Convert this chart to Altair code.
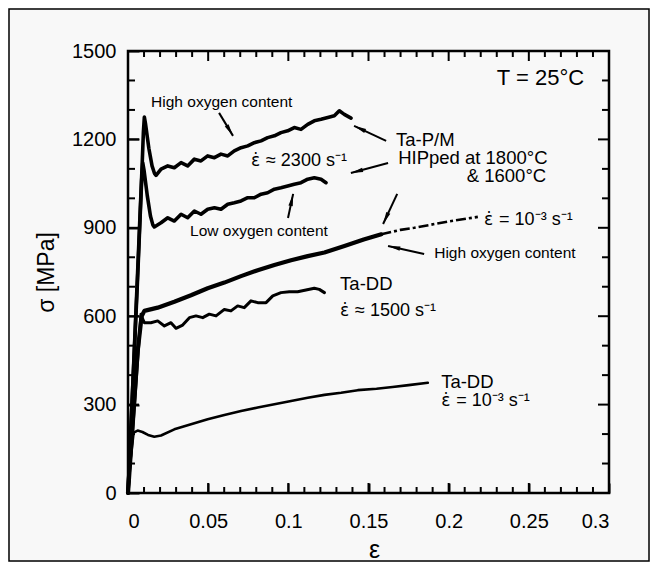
import math
import altair as alt
import pandas as pd

FONT = "Liberation Sans"

# ---------------- data ----------------
# Ta-P/M HIPped, high oxygen content, strain rate ~2300 /s
pm_high_eps = [0.0, 0.003, 0.006, 0.0088, 0.0096, 0.0102, 0.0110, 0.0130, 0.0150, 0.0165, 0.0175,
               0.0206, 0.0248, 0.0289, 0.0331, 0.0372, 0.0414, 0.0455, 0.0497, 0.0539, 0.0580,
               0.0622, 0.0663, 0.0705, 0.0747, 0.0788, 0.0830, 0.0871, 0.0913, 0.0954, 0.0996,
               0.1037, 0.1079, 0.1121, 0.1162, 0.1204, 0.1246, 0.1287, 0.1318, 0.1349, 0.1391]
pm_high_sig = [0, 370, 750, 1110, 1225, 1276, 1250, 1170, 1110, 1085, 1078,
               1099, 1110, 1104, 1121, 1110, 1133, 1127, 1144, 1138, 1150,
               1144, 1161, 1172, 1178, 1189, 1195, 1206, 1212, 1223, 1229,
               1240, 1234, 1251, 1263, 1268, 1274, 1280, 1297, 1285, 1272]

# Ta-P/M HIPped, low oxygen content, strain rate ~2300 /s
pm_low_eps = [0.0, 0.003, 0.006, 0.0085, 0.0092, 0.0100, 0.0120, 0.0140, 0.0155, 0.0164,
              0.0206, 0.0248, 0.0289, 0.0331, 0.0372, 0.0414, 0.0455, 0.0497, 0.0539, 0.0580,
              0.0622, 0.0663, 0.0705, 0.0747, 0.0788, 0.0830, 0.0871, 0.0913, 0.0954, 0.0996,
              0.1037, 0.1079, 0.1121, 0.1162, 0.1204, 0.1235]
pm_low_sig = [0, 365, 730, 1060, 1121, 1095, 1010, 940, 910, 903,
              917, 934, 923, 946, 934, 957, 946, 963, 968, 963,
              980, 985, 991, 1002, 1002, 1014, 1019, 1031, 1036, 1042,
              1048, 1053, 1065, 1070, 1065, 1053]

# Ta-P/M HIPped, high oxygen content, strain rate 1e-3 /s (solid part)
pm_qs_eps = [0.0, 0.003, 0.006, 0.0085, 0.0102, 0.0185, 0.0289, 0.0393, 0.0497, 0.0601, 0.0705,
             0.0809, 0.0913, 0.1017, 0.1121, 0.1225, 0.1350, 0.1470, 0.1580]
pm_qs_sig = [0, 240, 480, 600, 618, 629, 649, 671, 695, 714, 736,
             756, 774, 790, 804, 816, 838, 860, 878]
# same test, dashed continuation
pm_qs_ext_eps = [0.1580, 0.1700, 0.1786, 0.1994, 0.2182]
pm_qs_ext_sig = [878, 893, 900, 921, 937]

# Ta-DD, strain rate ~1500 /s
dd_dyn_eps = [0.0, 0.003, 0.006, 0.0081, 0.0092, 0.0102, 0.0143, 0.0185, 0.0227, 0.0268, 0.0299,
              0.0341, 0.0383, 0.0424, 0.0466, 0.0507, 0.0549, 0.0601, 0.0642, 0.0684, 0.0725,
              0.0767, 0.0809, 0.0861, 0.0903, 0.0954, 0.1006, 0.1058, 0.1110, 0.1162, 0.1193,
              0.1225]
dd_dyn_sig = [0, 220, 450, 607, 590, 578, 578, 584, 567, 578, 559,
              570, 595, 601, 595, 607, 601, 623, 618, 635, 629,
              652, 646, 646, 669, 680, 683, 683, 689, 695, 691,
              680]

# Ta-DD, strain rate 1e-3 /s
dd_qs_eps = [0.0, 0.0015, 0.0035, 0.0060, 0.0090, 0.0125, 0.0164, 0.0206, 0.0289, 0.0393, 0.0497,
             0.0601, 0.0705, 0.0809, 0.0913, 0.1017, 0.1121, 0.1225, 0.1329, 0.1433, 0.1550,
             0.1650, 0.1750, 0.1870]
dd_qs_sig = [0, 110, 205, 212, 207, 197, 191, 195, 216, 233, 250,
             265, 278, 290, 301, 312, 323, 333, 340, 349, 354,
             360, 366, 374]

# axis ticks
x_major = [0, 0.05, 0.1, 0.15, 0.2, 0.25, 0.3]
x_minor = [round(i * 0.01, 2) for i in range(31) if i % 5]
y_major = [0, 300, 600, 900, 1200, 1500]
y_minor = [100, 200, 400, 500, 700, 800, 1000, 1100, 1300, 1400]

# annotation arrows (tail -> tip), in data units
arrow_tail_eps = [0.0568, 0.1610, 0.1622, 0.0998, 0.1679, 0.1847]
arrow_tail_sig = [1290, 1195, 1120, 933, 1015, 811]
arrow_tip_eps = [0.0655, 0.1410, 0.1390, 0.1030, 0.1591, 0.1622]
arrow_tip_sig = [1212, 1246, 1086, 1015, 913, 838]

# plain annotations
ann_text = ["T = 25°C", "High oxygen content", "Ta-P/M", "HIPped at 1800°C", "& 1600°C",
            "Low oxygen content", "High oxygen content", "Ta-DD", "Ta-DD"]
ann_eps = [0.2845, 0.0144, 0.1672, 0.1685, 0.2608, 0.0387, 0.1910, 0.1323, 0.1953]
ann_sig = [1408, 1327, 1198, 1137, 1076, 889, 815, 709, 377]
ann_align = ["right", "left", "left", "left", "right", "left", "left", "left", "left"]
ann_size = [22, 15.5, 18.5, 18.5, 18.5, 15.5, 15.5, 18.5, 18.5]

# strain-rate annotations: "ε̇" + rest
rate_text = ["≈ 2300 s⁻¹", "= 10⁻³ s⁻¹", "≈ 1500 s⁻¹", "= 10⁻³ s⁻¹"]
rate_eps = [0.0767, 0.2221, 0.1323, 0.1953]
rate_sig = [1127, 927, 618, 312]
EDOT = "\u03b5\u0307"

# ---------------- chart ----------------
W, H = 481, 442
X_MAX, Y_MAX = 0.3, 1500.0
XS = alt.Scale(domain=[0, X_MAX], nice=False, zero=False)
YS = alt.Scale(domain=[0, Y_MAX], nice=False, zero=False)

# axis ticks point outward from an axis line pulled inside the plot by the
# tick length, so that they end up as inward ticks on the frame
AX = alt.Axis(values=x_major, format="~g", ticks=True, tickSize=10, tickWidth=2,
              tickColor="black", offset=-10, domain=False, grid=False,
              labelFont=FONT, labelFontSize=20, labelColor="black", labelPadding=18,
              title="ε", titleFont=FONT, titleFontSize=25, titleFontWeight="normal",
              titleColor="black", titleX=246, titleY=66, titleBaseline="middle")
AY = alt.Axis(values=y_major, format="d", ticks=True, tickSize=11, tickWidth=2,
              tickColor="black", offset=-11, domain=False, grid=False,
              labelFont=FONT, labelFontSize=20, labelColor="black", labelPadding=12,
              title="σ  [MPa]", titleFont=FONT, titleFontSize=23, titleFontWeight="normal",
              titleColor="black", titleX=-93, titleY=221, titleBaseline="middle")


def ex(f):
    return alt.X(f, type="quantitative", scale=XS, axis=AX)


def ey(f):
    return alt.Y(f, type="quantitative", scale=YS, axis=AY)


def curve(eps, sig, width, dash=None):
    df = pd.DataFrame({"e": eps, "s": sig, "i": range(len(eps))})
    kw = dict(color="black", strokeWidth=width, strokeJoin="round", strokeCap="round")
    if dash:
        kw["strokeDash"] = dash
        kw["strokeCap"] = "butt"
    return alt.Chart(df).mark_line(**kw).encode(x=ex("e"), y=ey("s"), order="i:Q")


layers = [curve(dd_qs_eps, dd_qs_sig, 2.6),
          curve(dd_dyn_eps, dd_dyn_sig, 3.0),
          curve(pm_qs_eps, pm_qs_sig, 4.2),
          curve(pm_qs_ext_eps, pm_qs_ext_sig, 2.6, dash=[10, 3, 3, 3]),
          curve(pm_low_eps, pm_low_sig, 3.6),
          curve(pm_high_eps, pm_high_sig, 3.6)]

# inward ticks on all four sides, each a two-point line (length converted to data units)
tk = {"e": [], "s": [], "k": [], "i": []}


def add_tick(e1, s1, e2, s2):
    k = len(tk["k"]) // 2
    tk["e"] += [e1, e2]
    tk["s"] += [s1, s2]
    tk["k"] += [k, k]
    tk["i"] += [0, 1]


for vals, ln in [(x_major, 10), (x_minor, 6)]:
    d = ln * Y_MAX / H
    for v in vals:
        add_tick(v, 0, v, d)
        add_tick(v, Y_MAX, v, Y_MAX - d)
for vals, ln in [(y_major, 11), (y_minor, 7)]:
    d = ln * X_MAX / W
    for v in vals:
        add_tick(0, v, d, v)
        add_tick(X_MAX, v, X_MAX - d, v)
tick_df = pd.DataFrame(tk)
layers.append(alt.Chart(tick_df).mark_line(color="black", strokeWidth=2, strokeCap="butt").encode(
    x=ex("e"), y=ey("s"), detail="k:N", order="i:Q"))

# arrows
px_e = W / X_MAX
px_s = H / Y_MAX
ang = []
for te, ts, he, hs in zip(arrow_tail_eps, arrow_tail_sig, arrow_tip_eps, arrow_tip_sig):
    dx = (he - te) * px_e
    dy = -(hs - ts) * px_s
    ang.append(math.degrees(math.atan2(dx, -dy)) % 360)
arr_df = pd.DataFrame({"e": arrow_tail_eps, "s": arrow_tail_sig,
                       "he": arrow_tip_eps, "hs": arrow_tip_sig, "a": ang})
layers.append(alt.Chart(arr_df).mark_rule(color="black", strokeWidth=2).encode(
    x=ex("e"), y=ey("s"), x2="he:Q", y2="hs:Q"))
tip_df = pd.DataFrame({"e": arrow_tip_eps, "s": arrow_tip_sig, "a": ang})
layers.append(alt.Chart(tip_df).mark_point(
    shape="M0,0L0.36,2L-0.36,2Z", filled=True, color="black", opacity=1, size=150,
    strokeWidth=0).encode(x=ex("e"), y=ey("s"), angle=alt.Angle("a:Q", scale=None)))

# text annotations
for t, e, s, al, fs in zip(ann_text, ann_eps, ann_sig, ann_align, ann_size):
    df = pd.DataFrame({"e": [e], "s": [s], "t": [t]})
    layers.append(alt.Chart(df).mark_text(align=al, baseline="middle", font=FONT,
                                          fontSize=fs, color="black").encode(
        x=ex("e"), y=ey("s"), text="t:N"))

rate_df = pd.DataFrame({"e": rate_eps, "s": rate_sig, "t": rate_text,
                        "d": [EDOT] * len(rate_text)})
layers.append(alt.Chart(rate_df).mark_text(align="left", baseline="middle", font="DejaVu Sans",
                                           fontSize=17, color="black").encode(
    x=ex("e"), y=ey("s"), text="d:N"))
layers.append(alt.Chart(rate_df).mark_text(align="left", baseline="middle", font=FONT,
                                           fontSize=18, color="black", dx=15).encode(
    x=ex("e"), y=ey("s"), text="t:N"))

# frames: plot box and outer figure border
one = pd.DataFrame({"k": [0]})
layers.append(alt.Chart(one).mark_rect(
    fill="transparent", stroke="black", strokeWidth=1.5).encode(
    x=alt.value(-119), x2=alt.value(521), y=alt.value(-42), y2=alt.value(510)))
layers.append(alt.Chart(one).mark_rect(
    fill="transparent", stroke="black", strokeWidth=2.5).encode(
    x=alt.value(0), x2=alt.value(W), y=alt.value(0), y2=alt.value(H)))

chart = alt.layer(*layers).properties(
    width=W, height=H, padding=0, background="#f8f8f8"
).configure_view(strokeWidth=0)

chart.save("out.html", embed_options={"renderer": "svg", "actions": False})
